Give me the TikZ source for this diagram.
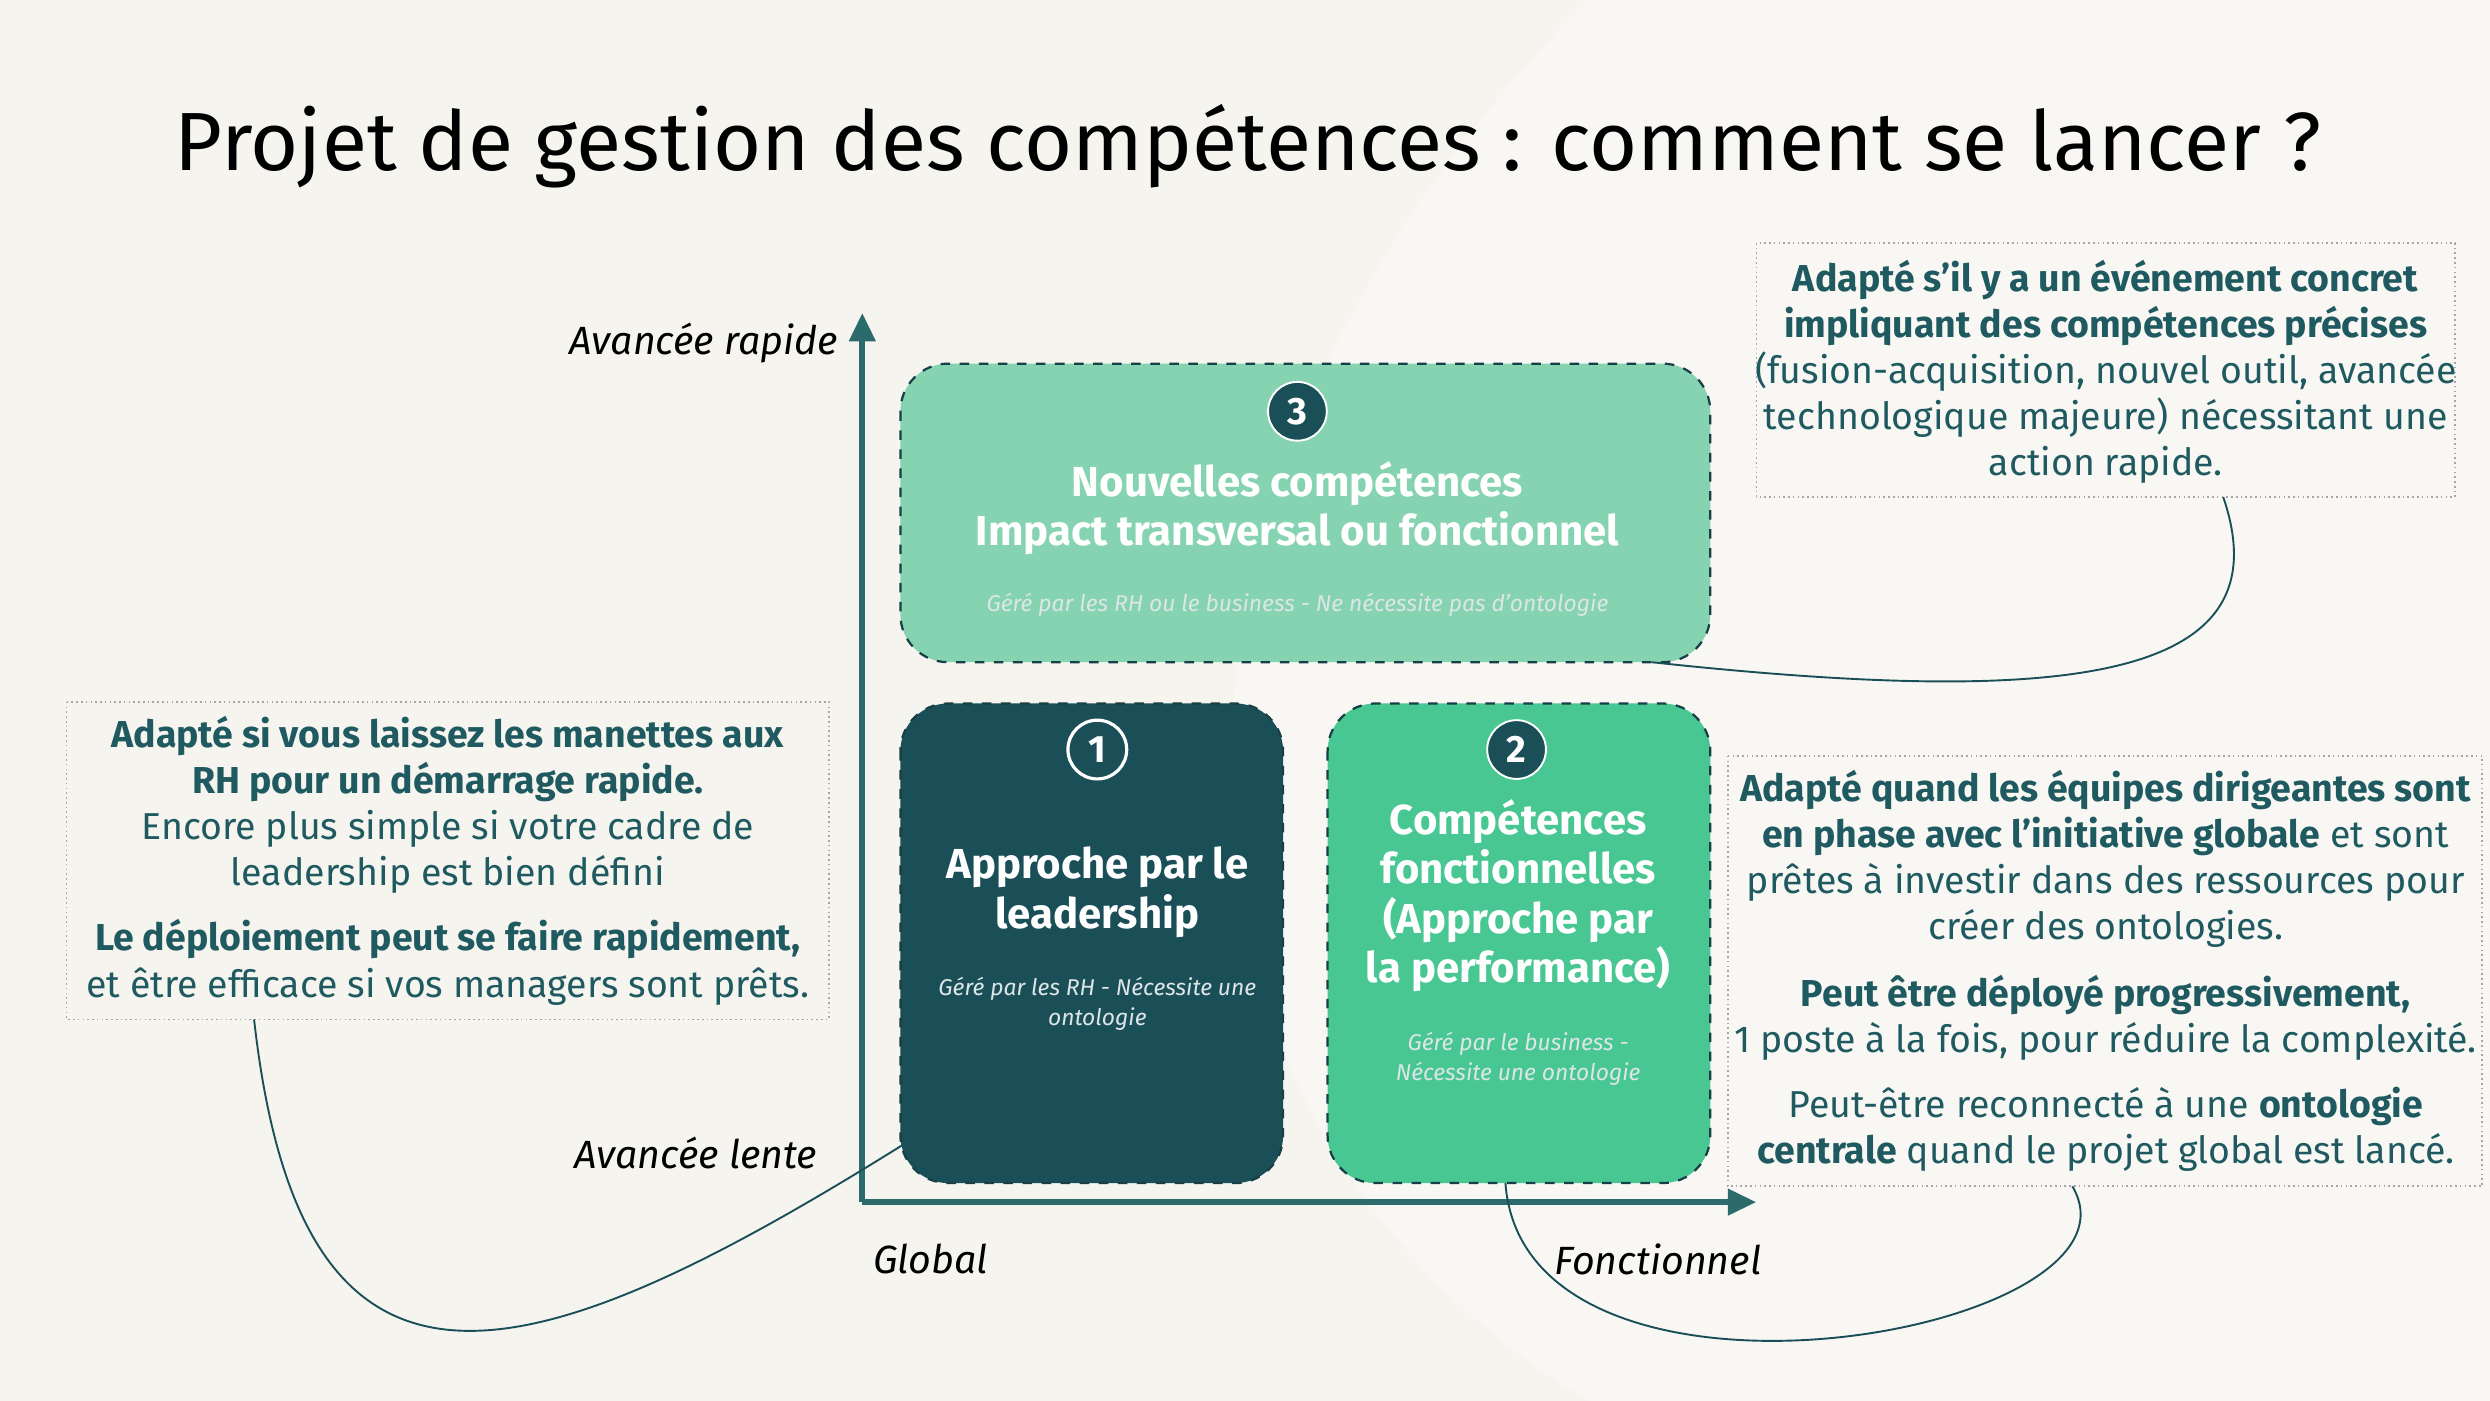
\documentclass[tikz,border=0pt]{standalone}
\usepackage{fontspec}
\setmainfont{Fira Sans}
\usetikzlibrary{arrows.meta}
\definecolor{bg}{HTML}{F6F4EF}
\definecolor{dark}{HTML}{1B4F58}
\definecolor{mid}{HTML}{48C792}
\definecolor{light}{HTML}{86D3B1}
\definecolor{teal}{HTML}{1F5A60}
\definecolor{axis}{HTML}{2B6B6B}
\tikzset{
 quad/.style={draw=dark!80!black, dashed, line width=0.7pt, rounded corners=15pt},
 callout/.style={draw=gray!70, densely dotted, line width=0.5pt},
 ctext/.style={text=teal, align=center, font=\fontsize{11.8}{14.5}\selectfont, inner sep=0pt},
 btitle/.style={text=white, align=center, font=\fontsize{13.2}{15.6}\selectfont\bfseries, inner sep=0pt},
 bsmall/.style={text=white!85!teal, align=center, font=\fontsize{7.2}{9.4}\selectfont\itshape, inner sep=0pt},
 axlabel/.style={font=\fontsize{12.4}{14}\selectfont\itshape, inner sep=0pt},
 numfill/.style={circle, fill=dark, draw=white, line width=0.6pt, text=white, font=\fontsize{12}{12}\selectfont\bfseries, minimum size=18.5pt, inner sep=0pt},
 link/.style={draw=dark, line width=0.6pt}
}
\begin{document}
\begin{tikzpicture}[x=0.5pt,y=-0.5pt]
\fill[bg] (0,0) rectangle (1568,882);
\useasboundingbox (0,0) rectangle (1568,882);
\fill[white,opacity=0.35] (1000,0) .. controls (700,300) and (700,700) .. (1000,882) -- (1568,882) -- (1568,0) -- cycle;
\node (title) at (786,92) {\fontsize{26}{30}\selectfont Projet de gestion des compétences : comment se lancer ?};
% axes
\coordinate (O) at (543,757);
\coordinate (Ytop) at (543,197);
\coordinate (Xend) at (1106,757);
\draw[axis, line width=2pt, -{Triangle[length=9pt,width=8pt]}] (O) -- (Ytop);
\draw[axis, line width=2pt, -{Triangle[length=9pt,width=8pt]}] (O) -- (Xend);
\node[axlabel, anchor=east] (yr) at (528,216) {Avancée rapide};
\node[axlabel, anchor=east] (yl) at (515,726) {Avancée lente};
\node[axlabel] (xg) at (586,793) {Global};
\node[axlabel] (xf) at (1044,793) {Fonctionnel};
% quadrants
\path[quad, fill=light] (567,229) rectangle (1077,417);
\coordinate (b3br) at (1040,417);
\path[quad, fill=dark] (567,443) rectangle (808,745);
\coordinate (b1bl) at (570,720);
\path[quad, fill=mid] (836,443) rectangle (1077,745);
\coordinate (b2b) at (948,745);
\node[numfill] (n3) at (817,259) {3};
\node[circle, draw=white, line width=1pt, text=white, font=\fontsize{12}{12}\selectfont\bfseries, minimum size=18.5pt, inner sep=0pt] (n1) at (691,472) {1};
\node[numfill] (n2) at (955,472) {2};
\node[btitle] (t3) at (817,320) {Nouvelles compétences\\Impact transversal ou fonctionnel};
\node[bsmall] (s3) at (817,381) {Géré par les RH ou le business - Ne nécessite pas d’ontologie};
\node[btitle] (t1) at (691,562) {Approche par le\\leadership};
\node[bsmall] (s1) at (691,632) {Géré par les RH - Nécessite une\\ontologie};
\node[btitle] (t2) at (956,564) {Compétences\\fonctionnelles\\(Approche par\\la performance)};
\node[bsmall] (s2) at (956,667) {Géré par le business -\\Nécessite une ontologie};
% callouts
\draw[callout] (1106,153) rectangle (1546,313);
\coordinate (tr) at (1400,313);
\node[ctext] (ttr) at (1326,234) {\textbf{Adapté s’il y a un événement concret}\\\textbf{impliquant des compétences précises}\\(fusion-acquisition, nouvel outil, avancée\\technologique majeure) nécessitant une\\action rapide.};
\draw[callout] (42,442) rectangle (522,642);
\coordinate (lc) at (160,642);
\node[ctext] (tl1) at (282,507) {\textbf{Adapté si vous laissez les manettes aux}\\\textbf{RH pour un démarrage rapide.}\\Encore plus simple si votre cadre de\\leadership est bien défini};
\node[ctext] (tl2) at (282,606) {\textbf{Le déploiement peut se faire rapidement,}\\et être efficace si vos managers sont prêts.};
\draw[callout] (1088,476) rectangle (1563,747);
\coordinate (rc) at (1305,747);
\node[ctext] (tr1) at (1326,541) {\textbf{Adapté quand les équipes dirigeantes sont}\\\textbf{en phase avec l’initiative globale} et sont\\prêtes à investir dans des ressources pour\\créer des ontologies.};
\node[ctext] (tr2) at (1326,641) {\textbf{Peut être déployé progressivement,}\\1 poste à la fois, pour réduire la complexité.};
\node[ctext] (tr3) at (1326,711) {Peut-être reconnecté à une \textbf{ontologie}\\\textbf{centrale} quand le projet global est lancé.};
% links
\draw[link] (tr) .. controls (1440,430) and (1300,445) .. (b3br);
\draw[link] (lc) .. controls (190,910) and (330,870) .. (b1bl);
\draw[link] (rc) .. controls (1360,840) and (960,910) .. (b2b);
\end{tikzpicture}
\end{document}
